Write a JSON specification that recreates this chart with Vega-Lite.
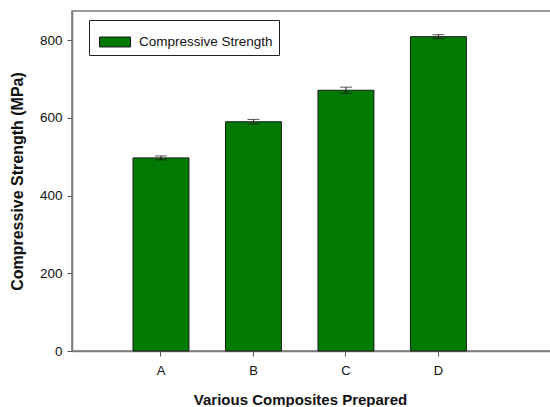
{
  "$schema": "https://vega.github.io/schema/vega-lite/v6.json",
  "width": 479,
  "height": 340,
  "autosize": {"type": "none"},
  "padding": {"left": 72, "top": 11, "right": 0, "bottom": 56},
  "background": "white",
  "config": {
    "font": "Liberation Sans",
    "view": {"stroke": "#7a7a7a", "strokeWidth": 1.5}
  },
  "data": {
    "values": [
      {"composite": "A", "strength": 497, "lo": 492, "hi": 502, "series": "Compressive Strength"},
      {"composite": "B", "strength": 590, "lo": 584, "hi": 596, "series": "Compressive Strength"},
      {"composite": "C", "strength": 671, "lo": 663, "hi": 679, "series": "Compressive Strength"},
      {"composite": "D", "strength": 809, "lo": 804, "hi": 814, "series": "Compressive Strength"}
    ]
  },
  "encoding": {
    "x": {
      "field": "composite",
      "type": "nominal",
      "scale": {"paddingInner": 0.395, "paddingOuter": 0.787, "align": 0.419},
      "axis": {
        "labelAngle": 0,
        "tickSize": 5,
        "tickColor": "#555",
        "domainColor": "#7a7a7a",
        "domainWidth": 1.5,
        "labelPadding": 8,
        "labelFontSize": 13,
        "labelColor": "#111",
        "title": "Various Composites Prepared",
        "titleFontSize": 15,
        "titleFontWeight": "bold",
        "titleColor": "#111",
        "titleX": 228,
        "titleY": 53,
        "titleBaseline": "alphabetic"
      }
    }
  },
  "layer": [
    {
      "mark": {"type": "bar", "stroke": "#1a1a1a", "strokeWidth": 1},
      "encoding": {
        "y": {
          "field": "strength",
          "type": "quantitative",
          "scale": {"domain": [0, 875], "nice": false},
          "axis": {
            "values": [0, 200, 400, 600, 800],
            "grid": false,
            "tickSize": 5,
            "tickColor": "#555",
            "domainColor": "#7a7a7a",
            "domainWidth": 1.5,
            "labelPadding": 5,
            "labelFontSize": 13.5,
            "labelColor": "#111",
            "title": "Compressive Strength (MPa)",
            "titleFontSize": 16,
            "titleFontWeight": "bold",
            "titleColor": "#111",
            "titleX": -55,
            "titleY": 170,
            "titleBaseline": "middle"
          }
        },
        "fill": {
          "field": "series",
          "type": "nominal",
          "scale": {"range": ["#037a03"]},
          "legend": {
            "orient": "none",
            "legendX": 17,
            "legendY": 9,
            "title": null,
            "strokeColor": "#222",
            "fillColor": "white",
            "padding": 6,
            "symbolOffset": 4,
            "symbolType": "M-1,-0.32h2v0.64h-2z",
            "symbolSize": 961,
            "symbolStrokeColor": "#111",
            "symbolStrokeWidth": 1,
            "labelFontSize": 13.5,
            "labelColor": "#111",
            "labelOffset": 8
          }
        }
      }
    },
    {
      "mark": {"type": "rule", "color": "#111", "strokeWidth": 1},
      "encoding": {
        "y": {"field": "lo", "type": "quantitative"},
        "y2": {"field": "hi"}
      }
    },
    {
      "mark": {"type": "tick", "color": "#111", "size": 12, "thickness": 1},
      "encoding": {"y": {"field": "lo", "type": "quantitative"}}
    },
    {
      "mark": {"type": "tick", "color": "#111", "size": 12, "thickness": 1},
      "encoding": {"y": {"field": "hi", "type": "quantitative"}}
    }
  ]
}
